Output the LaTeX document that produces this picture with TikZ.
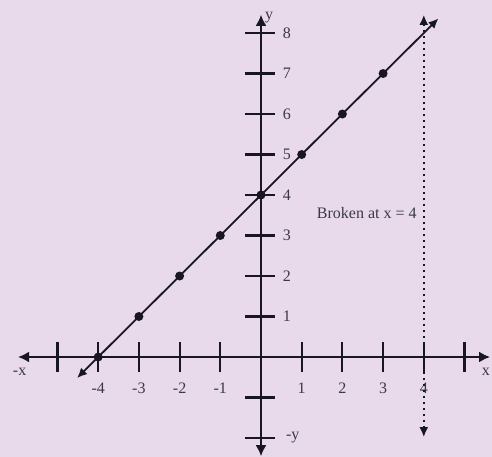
\documentclass[tikz,border=0pt]{standalone}
\usepackage{fontspec}
\setmainfont{Liberation Serif}
\usetikzlibrary{arrows.meta}
\definecolor{paper}{RGB}{232,218,234}
\definecolor{ink}{RGB}{25,22,35}
\begin{document}
\begin{tikzpicture}[x=20.35pt,y=20.25pt,
  axis/.style={ink,line width=1.1pt,{Latex[length=5.5pt,width=5.5pt]}-{Latex[length=5.5pt,width=5.5pt]}},
  tickmark/.style={ink,line width=1.1pt},
  lbl/.style={ink!85,font=\footnotesize,inner sep=1pt},
  pt/.style={circle,fill=ink,inner sep=0pt,minimum size=4.5pt},
  graphline/.style={ink,line width=0.9pt,{Latex[length=5pt,width=4.5pt]}-{Latex[length=5pt,width=4.5pt]}},
  brokenline/.style={ink,line width=1pt,dotted,{Latex[length=5pt,width=4.5pt]}-{Latex[length=5pt,width=4.5pt]}}]
% background / bounding box
\fill[paper] (-6.413,-2.469) rectangle (5.676,8.815);
\useasboundingbox (-6.413,-2.469) rectangle (5.676,8.815);
% axes
\coordinate (xl) at (-5.97,0);
\coordinate (xr) at (5.63,0);
\coordinate (yb) at (0,-2.45);
\coordinate (yt) at (0,8.45);
\draw[axis] (xl) -- (xr);
\draw[axis] (yb) -- (yt);
% x ticks and labels
\foreach \i in {-5,-4,-3,-2,-1,1,2,3,4,5} {
  \draw[tickmark] (\i,-0.38) -- (\i,0.38);
}
\foreach \i in {-4,-3,-2,-1,1,2,3,4} {
  \node[lbl] (xlab\i) at (\i,-0.77) {\i};
}
% y ticks and labels
\foreach \j in {-2,-1,1,2,3,4,5,6,7,8} {
  \draw[tickmark] (-0.39,\j) -- (0.34,\j);
}
\foreach \j in {1,2,3,4,5,6,7,8} {
  \node[lbl,anchor=west] (ylab\j) at (0.48,\j) {\j};
}
\node[lbl] (mx) at (-5.93,-0.37) {-x};
\node[lbl,anchor=east,inner sep=0.5pt] (px) at (5.66,-0.37) {x};
\node[lbl] (my) at (0.78,-1.98) {-y};
\node[lbl] (py) at (0.2,8.37) {y};
% graph line
\coordinate (la) at (-4.52,-0.52);
\coordinate (lb) at (4.36,8.36);
\draw[graphline] (la) -- (lb);
\foreach \k in {-4,-3,-2,-1,0,1,2,3} {
  \pgfmathtruncatemacro{\yy}{\k+4}
  \node[pt] (p\k) at (\k,\yy) {};
}
% broken line at x = 4
\coordinate (bt) at (4,8.45);
\coordinate (bb) at (4,-1.98);
\draw[brokenline] (bb) -- (bt);
\node[lbl] (broken) at (2.6,3.56) {Broken at x = 4};
\end{tikzpicture}
\end{document}
